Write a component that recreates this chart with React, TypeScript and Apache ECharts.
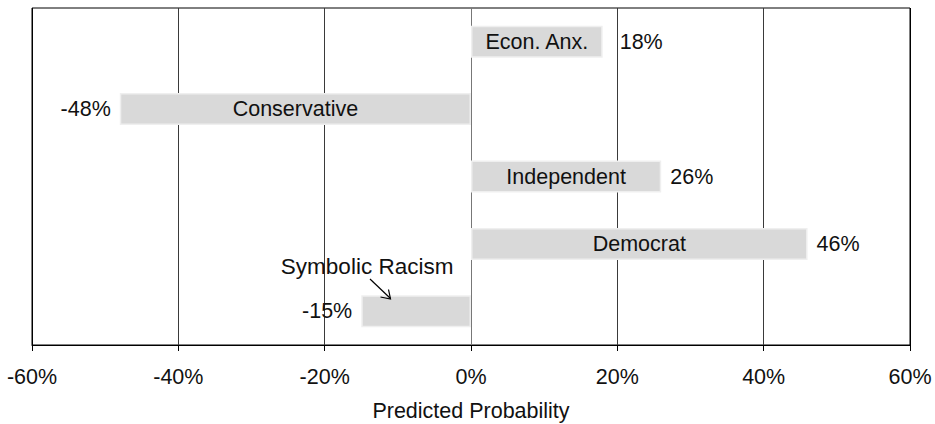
import React, { useEffect, useRef } from "react";
import * as echarts from "echarts";

const categories = ["Econ. Anx.", "Conservative", "Independent", "Democrat", "Symbolic Racism"];
const values = [18, -48, 26, 46, -15];
const insideNames = ["Econ. Anx.", "Conservative", "Independent", "Democrat", ""];
const annotatedIndex = 4;
const annotationText = "Symbolic Racism";
const xTicks = [-60, -40, -20, 0, 20, 40, 60];

const FONT = "'Liberation Sans', Arial, Helvetica, sans-serif";

export default function App() {
  const ref = useRef<HTMLDivElement>(null);
  useEffect(() => {
    if (!ref.current) return;
    const chart = echarts.init(ref.current, undefined, { renderer: "svg" });
    const valueData = values.map((v, i) => ({
      value: v,
      label: { position: v >= 0 ? "right" : "left", distance: i === 0 ? 17 : 9 },
    }));
    const nameData = values.map((v, i) => ({
      value: v,
      label:
        i === annotatedIndex
          ? { position: "top", offset: [-49, -12.5], formatter: annotationText, distance: 5, fontSize: 22.5 }
          : { position: "inside", formatter: insideNames[i] },
    }));
    chart.setOption({
      animation: false,
      textStyle: { fontFamily: FONT },
      grid: {
        left: 32,
        right: 25,
        top: 8,
        bottom: 79,
        show: true,
        borderColor: "#000",
        borderWidth: 1,
        containLabel: false,
        outerBoundsMode: "none",
      },
      xAxis: {
        type: "value",
        min: xTicks[0],
        max: xTicks[xTicks.length - 1],
        interval: 20,
        axisLine: { show: true, lineStyle: { color: "#000", width: 1 } },
        axisTick: { show: true, length: 6, lineStyle: { color: "#000" } },
        axisLabel: {
          formatter: "{value}%",
          color: "#111",
          fontSize: 21.5,
          fontFamily: FONT,
          margin: 21,
        },
        splitLine: {
          show: true,
          lineStyle: {
            color: ["#000", "#3a3a3a", "#3a3a3a", "#777", "#3a3a3a", "#3a3a3a", "#000"],
            width: 1,
          },
        },
        name: "Predicted Probability",
        nameLocation: "middle",
        nameGap: 55,
        nameTextStyle: { color: "#111", fontSize: 21.5, fontFamily: FONT },
      },
      yAxis: {
        type: "category",
        data: categories,
        inverse: true,
        axisLine: { show: false },
        axisTick: { show: false },
        axisLabel: { show: false },
        splitLine: { show: false },
      },
      series: [
        {
          type: "bar",
          data: valueData,
          barWidth: 32,
          itemStyle: { color: "#d9d9d9", borderColor: "#efefef", borderWidth: 1.5 },
          label: {
            show: true,
            formatter: (p: any) => `${p.value}%`,
            color: "#111",
            fontSize: 21.5,
            fontFamily: FONT,
          },
          silent: true,
          z: 2,
        },
        {
          type: "bar",
          data: nameData,
          barWidth: 32,
          barGap: "-100%",
          itemStyle: { color: "rgba(0,0,0,0)" },
          label: {
            show: true,
            color: "#111",
            fontSize: 21.5,
            fontFamily: FONT,
          },
          silent: true,
          z: 3,
        },
      ],
      graphic: [
        {
          type: "line",
          z: 100,
          shape: { x1: 370, y1: 279, x2: 390.5, y2: 298.5 },
          style: { stroke: "#000", lineWidth: 1.2 },
        },
        {
          type: "polyline",
          z: 100,
          shape: { points: [[380.5, 297], [390.5, 299], [388.5, 289.5]] },
          style: { stroke: "#000", lineWidth: 1.2, fill: "none" },
        },
      ],
    });
    return () => chart.dispose();
  }, []);
  return (
    <div
      ref={ref}
      style={{ position: "fixed", left: 0, top: 0, width: 935, height: 424, background: "#fff" }}
    />
  );
}
